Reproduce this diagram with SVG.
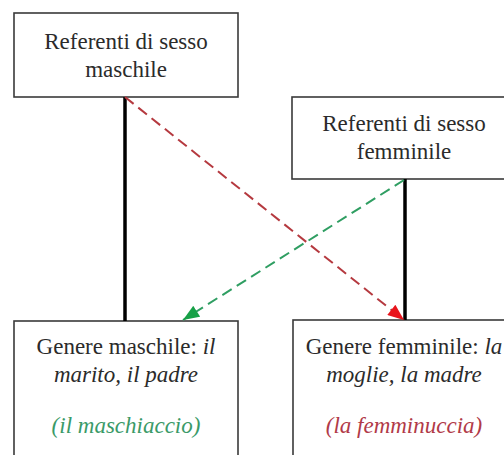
<svg xmlns="http://www.w3.org/2000/svg" width="504" height="455" viewBox="0 0 504 455">
<style>
.box{fill:#fff;stroke:#3a3a3a;stroke-width:1.6}
.solid{stroke:#000;stroke-width:3.5;fill:none}
.dr{stroke:#b5393f;stroke-width:2;stroke-dasharray:11,6;fill:none}
.dg{stroke:#2f9e62;stroke-width:2;stroke-dasharray:11,6;fill:none}
</style>
<defs>
<marker id="ar" viewBox="0 0 10 8" refX="10" refY="4" markerWidth="17" markerHeight="13" markerUnits="userSpaceOnUse" orient="auto"><path d="M0,0 L10,4 L0,8 z" fill="#e8141c"/></marker>
<marker id="ag" viewBox="0 0 10 8" refX="10" refY="4" markerWidth="17" markerHeight="13" markerUnits="userSpaceOnUse" orient="auto"><path d="M0,0 L10,4 L0,8 z" fill="#17a047"/></marker>
</defs>
<rect width="504" height="455" fill="#fff"/>
<g id="node-ref-masc">
<rect class="box" x="14" y="13" width="224" height="84"/>
<text x="126" y="49" font-family="Liberation Serif" font-size="23" fill="#2b2b2b" text-anchor="middle">Referenti di sesso</text>
<text x="126" y="77" font-family="Liberation Serif" font-size="23" fill="#2b2b2b" text-anchor="middle">maschile</text>
</g>
<g id="node-ref-femm">
<rect class="box" x="292" y="97" width="224" height="82"/>
<text x="404" y="131" font-family="Liberation Serif" font-size="23" fill="#2b2b2b" text-anchor="middle">Referenti di sesso</text>
<text x="404" y="159" font-family="Liberation Serif" font-size="23" fill="#2b2b2b" text-anchor="middle">femminile</text>
</g>
<g id="node-gen-masc">
<rect class="box" x="14" y="321" width="224" height="150"/>
<text x="126" y="354" font-family="Liberation Serif" font-size="23" fill="#2b2b2b" text-anchor="middle">Genere maschile: <tspan font-style="italic">il</tspan></text>
<text x="126" y="382" font-family="Liberation Serif" font-size="23" fill="#2b2b2b" font-style="italic" text-anchor="middle">marito, il padre</text>
<text x="126" y="433" font-family="Liberation Serif" font-size="23" fill="#3a9a68" font-style="italic" text-anchor="middle">(il maschiaccio)</text>
</g>
<g id="node-gen-femm">
<rect class="box" x="293" y="320" width="224" height="150"/>
<text x="404" y="354" font-family="Liberation Serif" font-size="23" fill="#2b2b2b" text-anchor="middle">Genere femminile: <tspan font-style="italic">la</tspan></text>
<text x="404" y="382" font-family="Liberation Serif" font-size="23" fill="#2b2b2b" font-style="italic" text-anchor="middle">moglie, la madre</text>
<text x="404" y="433" font-family="Liberation Serif" font-size="23" fill="#b13a48" font-style="italic" text-anchor="middle">(la femminuccia)</text>
</g>
<g id="connectors">
<line class="solid" x1="125" y1="97" x2="125" y2="321"/>
<line class="solid" x1="405" y1="179" x2="405" y2="320"/>
<line class="dr" x1="125" y1="97" x2="404" y2="320" marker-end="url(#ar)"/>
<line class="dg" x1="404" y1="180" x2="183" y2="320" marker-end="url(#ag)"/>
</g>
</svg>
